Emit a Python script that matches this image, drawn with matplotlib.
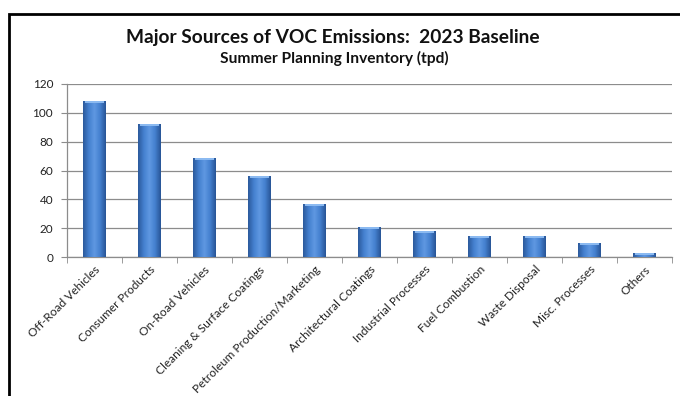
import matplotlib
matplotlib.use("Agg")
import matplotlib.pyplot as plt
import numpy as np
from matplotlib.colors import LinearSegmentedColormap
from matplotlib.patches import Rectangle

categories = ["Off-Road Vehicles", "Consumer Products", "On-Road Vehicles",
              "Cleaning & Surface Coatings", "Petroleum Production/Marketing",
              "Architectural Coatings", "Industrial Processes", "Fuel Combustion",
              "Waste Disposal", "Misc. Processes", "Others"]
values = [108, 92, 69, 56.5, 37, 21, 18, 14.5, 14.5, 9.5, 3]
yticks = [0, 20, 40, 60, 80, 100, 120]
title = "Major Sources of VOC Emissions:  2023 Baseline"
subtitle = "Summer Planning Inventory (tpd)"

plt.rcParams['font.family'] = ['Lato', 'DejaVu Sans']

fig = plt.figure(figsize=(6.8, 3.96), dpi=100)
fig.patch.set_facecolor('white')
ax = fig.add_axes([67/680, 139/396, 605/680, 173/396])

x = np.arange(len(categories))
bw = 0.41
bars = ax.bar(x, values, width=bw, color='#3b71c0', edgecolor='none', zorder=3)

cmap = LinearSegmentedColormap.from_list('cyl', ['#2c5a9c', '#4480cf', '#5f98e2', '#4480cf', '#285596'])
grad = np.linspace(0, 1, 64).reshape(1, -1)
for b in bars:
    x0, w, h = b.get_x(), b.get_width(), b.get_height()
    im = ax.imshow(grad, extent=[x0, x0 + w, 0, h], aspect='auto', cmap=cmap,
                   zorder=4, interpolation='bilinear')
    im.set_clip_path(b)
    cap = min(1.4, h * 0.5)
    ax.add_patch(Rectangle((x0 + w * 0.08, h - cap), w * 0.84, cap, facecolor='#8fbdf3',
                           edgecolor='none', zorder=5, alpha=0.95))

ax.set_xlim(-0.5, len(categories) - 0.5)
ax.set_ylim(0, 120)
ax.set_yticks(yticks)
ax.set_yticklabels([str(v) for v in yticks], fontsize=8.5, color='#222222')
ax.yaxis.grid(True, color='#8c8c8c', linewidth=0.9, zorder=0)
ax.set_axisbelow(True)

ax.set_xticks(x)
ax.set_xticklabels(categories, rotation=45, ha='right', rotation_mode='anchor',
                   fontsize=8.6, color='#222222')
ax.tick_params(axis='x', length=0, pad=5)
ax.set_xticks(np.arange(-0.5, len(categories)), minor=True)
ax.tick_params(axis='x', which='minor', length=4, color='#8c8c8c', direction='out')
ax.tick_params(axis='y', length=4, color='#8c8c8c', direction='out', pad=6)

for s in ['top', 'right']:
    ax.spines[s].set_visible(False)
for s in ['left', 'bottom']:
    ax.spines[s].set_color('#8c8c8c')
    ax.spines[s].set_linewidth(0.9)

fig.text(333/680, 1 - 37/396, title, ha='center', va='center', fontsize=13.8,
         fontweight='bold', color='#111111')
fig.text(334/680, 1 - 58/396, subtitle, ha='center', va='center', fontsize=11.2,
         fontweight='bold', color='#111111')

fig.add_artist(Rectangle((9/680, -0.2), 1.2, 1 - 14/396 + 0.2, transform=fig.transFigure,
                         fill=False, edgecolor='black', linewidth=2))

fig.savefig('out.png', dpi=100, facecolor='white')
